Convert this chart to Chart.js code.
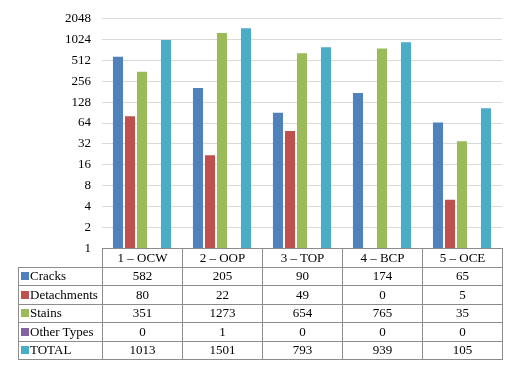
<!DOCTYPE html>
<html>
<head>
<meta charset="utf-8">
<script src="https://cdn.jsdelivr.net/npm/chart.js@4/dist/chart.umd.min.js"></script>
<style>
  body { margin: 0; background: #fff; font-family: "Liberation Serif", "Times New Roman", "DejaVu Serif", serif; }
  #wrap { position: relative; width: 506px; height: 365px; }
  #chartBox { position: absolute; left: 0; top: 0; width: 506px; height: 267px; }
  #dataTable { position: absolute; left: 18px; top: 248px; border-collapse: collapse; table-layout: fixed; width: 485px; font-size: 13px; color: #000; }
  #dataTable td { border: 1px solid #8c8c8c; height: 17.5px; padding: 0; text-align: center; line-height: 16px; overflow: hidden; background: #fff; }
  #dataTable td.head { text-align: left; white-space: nowrap; padding-left: 2px; }
  #dataTable td.blank { border: none; border-right: 1px solid #8c8c8c; background: transparent; }
  .sw { display: inline-block; width: 8px; height: 8px; margin-right: 1px; }
</style>
</head>
<body>
<div id="wrap">
  <div id="chartBox"><canvas id="mainChart"></canvas></div>
  <table id="dataTable"></table>
</div>
<script>
// categories and series
const categories = ["1 – OCW", "2 – OOP", "3 – TOP", "4 – BCP", "5 – OCE"];
const cracks = [582, 205, 90, 174, 65];
const detachments = [80, 22, 49, 0, 5];
const stains = [351, 1273, 654, 765, 35];
const otherTypes = [0, 1, 0, 0, 0];
const total = [1013, 1501, 793, 939, 105];
const yTicks = [1, 2, 4, 8, 16, 32, 64, 128, 256, 512, 1024, 2048];

const series = [
  { label: "Cracks", data: cracks, color: "#4F81BD" },
  { label: "Detachments", data: detachments, color: "#C0504D" },
  { label: "Stains", data: stains, color: "#9BBB59" },
  { label: "Other Types", data: otherTypes, color: "#8064A2" },
  { label: "TOTAL", data: total, color: "#4BACC6" }
];

const serifFont = "'Liberation Serif', 'Times New Roman', 'DejaVu Serif', serif";

// Build the data table
function buildTable() {
  const table = document.getElementById("dataTable");
  let html = "<colgroup><col style='width:84px'>";
  categories.forEach(() => { html += "<col style='width:80px'>"; });
  html += "</colgroup><tr><td class='head blank'></td>";
  categories.forEach(c => { html += "<td>" + c + "</td>"; });
  html += "</tr>";
  series.forEach(s => {
    html += "<tr><td class='head'><span class='sw' style='background:" + s.color + "'></span>" + s.label + "</td>";
    s.data.forEach(v => { html += "<td>" + v + "</td>"; });
    html += "</tr>";
  });
  table.innerHTML = html;
}

function initChart() {
  const ctx = document.getElementById("mainChart");
  new Chart(ctx, {
    type: "bar",
    data: {
      labels: categories,
      datasets: series.map(s => ({
        label: s.label,
        data: s.data,
        backgroundColor: s.color,
        categoryPercentage: 0.75,
        barPercentage: 0.84
      }))
    },
    options: {
      responsive: true,
      maintainAspectRatio: false,
      animation: false,
      layout: { padding: { top: 10, right: 4, bottom: 9, left: 0 } },
      plugins: {
        legend: { display: false },
        tooltip: { enabled: false }
      },
      scales: {
        x: { display: false },
        y: {
          type: "logarithmic",
          min: 1,
          max: 2048,
          afterBuildTicks: scale => { scale.ticks = yTicks.map(v => ({ value: v })); },
          afterFit: scale => { scale.width = 102; },
          border: { display: false },
          grid: { color: "#d9d9d9", drawTicks: false },
          ticks: {
            padding: 11,
            color: "#000",
            font: { family: serifFont, size: 13 },
            callback: v => String(v)
          }
        }
      }
    }
  });
}

buildTable();
initChart();
</script>
</body>
</html>
